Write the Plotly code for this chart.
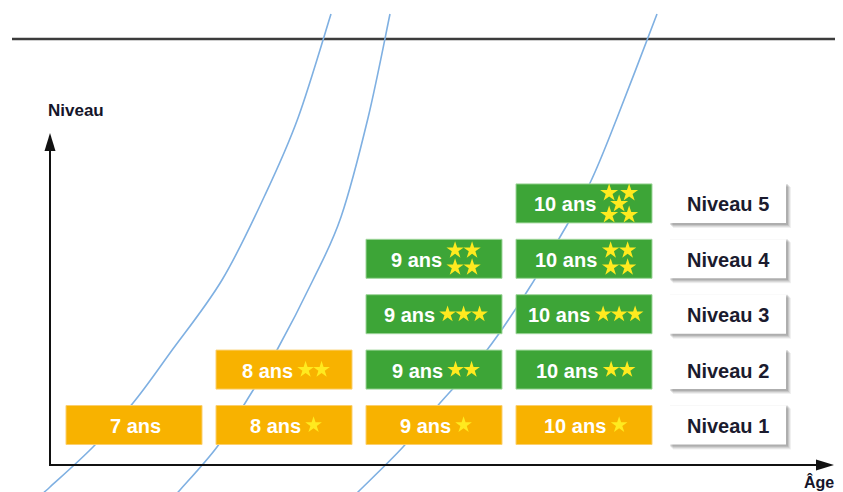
import plotly.graph_objects as go

# ---------------- data ----------------
ages = ["7 ans", "8 ans", "9 ans", "10 ans"]
level_names = ["Niveau 1", "Niveau 2", "Niveau 3", "Niveau 4", "Niveau 5"]
levels = [1, 2, 3, 4, 5]

cell_age = ["7 ans", "8 ans", "8 ans", "9 ans", "9 ans", "9 ans", "9 ans",
            "10 ans", "10 ans", "10 ans", "10 ans", "10 ans"]
cell_level = [1, 1, 2, 1, 2, 3, 4, 1, 2, 3, 4, 5]
cell_stars = [0, 1, 2, 1, 2, 3, 4, 1, 2, 3, 4, 5]
cell_kind = ["orange", "orange", "orange", "orange", "green", "green", "green",
             "orange", "green", "green", "green", "green"]

# decorative guide curves (page-pixel points)
curve_a = [(331, 14), (298, 118), (265, 195), (222, 280), (170, 353), (133, 403),
           (93, 447), (50, 487), (44, 492)]
curve_b = [(390, 14), (368, 118), (341, 217), (313, 280), (277, 350), (247, 400),
           (217, 447), (180, 490), (178, 492)]
curve_c = [(657, 14), (617, 118), (590, 183), (560, 237), (528, 290), (487, 350),
           (440, 403), (403, 447), (360, 490), (358, 492)]

# ---------------- styling / geometry ----------------
W, H = 843, 492
PAGE_OFF = 8                    # body margin of the html page
X0_PX, COL_PX = 134, 150.0      # page-pixel centre of first column, column pitch
Y0_PX, ROW_PX = 425, 55.4       # page-pixel centre of level 1, row pitch
FILL = {"orange": "#F8B200", "green": "#3DA537"}
EDGE = {"orange": "#FBCF6E", "green": "#9ED69A"}
STAR = "#FFEA1F"
FONT = "Liberation Sans, Arial, sans-serif"
TXT_SIZE = 20


def xd(px):
    return (px - X0_PX) / COL_PX


def yd(py):
    return 1 + (Y0_PX - py) / ROW_PX


def ddx(px):
    return px / COL_PX


def ddy(px):
    return px / ROW_PX


CW = {' ': .278, 'a': .556, 'n': .611, 's': .556}
for d in "0123456789":
    CW[d] = .556


def text_w(s):
    return sum(CW.get(c, .556) for c in s) * TXT_SIZE


STAR_BLOCK = {0: 0, 1: 13, 2: 29, 3: 45, 4: 31, 5: 34}
STAR_POS = {
    1: [(6.5, 0)],
    2: [(6.5, 0), (22.5, 0)],
    3: [(6.5, 0), (22.5, 0), (38.5, 0)],
    4: [(7, -8.5), (24, -8.5), (7, 8.5), (24, 8.5)],
    5: [(7, -10.5), (27, -10.5), (17, 0.5), (7, 11.5), (27, 11.5)],
}
STAR_SIZE = {1: 12.5, 2: 12.5, 3: 12.5, 4: 13, 5: 13.5}
GAP = 8
BOX_HW, BOX_HH = 68, 19.5
LABEL_COL = xd(728)
LABEL_HW = 58

fig = go.Figure()
shapes = []
annotations = []


def to_path(pts):
    P = [(xd(x), yd(y)) for x, y in pts]
    s = f"M {P[0][0]},{P[0][1]}"
    n = len(P)
    for i in range(n - 1):
        p0 = P[i - 1] if i > 0 else P[i]
        p1, p2 = P[i], P[i + 1]
        p3 = P[i + 2] if i + 2 < n else P[i + 1]
        c1 = (p1[0] + (p2[0] - p0[0]) / 6, p1[1] + (p2[1] - p0[1]) / 6)
        c2 = (p2[0] - (p3[0] - p1[0]) / 6, p2[1] - (p3[1] - p1[1]) / 6)
        s += f" C {c1[0]},{c1[1]} {c2[0]},{c2[1]} {p2[0]},{p2[1]}"
    return s


# top rule
shapes.append(dict(type="line", xref="x", yref="y", x0=xd(12), x1=xd(860), y0=yd(39), y1=yd(39),
                   line=dict(color="#3C3C3C", width=2.5), layer="below"))

# guide curves
for c in (curve_a, curve_b, curve_c):
    shapes.append(dict(type="path", xref="x", yref="y", path=to_path(c),
                       line=dict(color="#7FB0E2", width=1.6), layer="below"))

# axes with arrows
shapes.append(dict(type="line", xref="x", yref="y", x0=xd(50), x1=xd(50), y0=yd(466), y1=yd(148),
                   line=dict(color="#111111", width=2), layer="below"))
shapes.append(dict(type="path", xref="x", yref="y",
                   path=f"M {xd(50)},{yd(133)} L {xd(44.5)},{yd(151)} L {xd(55.5)},{yd(151)} Z",
                   fillcolor="#111111", line=dict(width=0), layer="below"))
shapes.append(dict(type="line", xref="x", yref="y", x0=xd(49), x1=xd(818), y0=yd(465), y1=yd(465),
                   line=dict(color="#111111", width=2), layer="below"))
shapes.append(dict(type="path", xref="x", yref="y",
                   path=f"M {xd(834)},{yd(465)} L {xd(816)},{yd(459.5)} L {xd(816)},{yd(470.5)} Z",
                   fillcolor="#111111", line=dict(width=0), layer="below"))

# cells
star_x, star_y, star_s = [], [], []
for age, lvl, ns, kind in zip(cell_age, cell_level, cell_stars, cell_kind):
    col = ages.index(age)
    shapes.append(dict(type="rect", xref="x", yref="y",
                       x0=col - ddx(BOX_HW), x1=col + ddx(BOX_HW),
                       y0=lvl - ddy(BOX_HH), y1=lvl + ddy(BOX_HH),
                       fillcolor=FILL[kind], line=dict(color=EDGE[kind], width=1), layer="below"))
    tw = text_w(age)
    total = tw + (GAP + STAR_BLOCK[ns] if ns else 0)
    left_px = -total / 2
    annotations.append(dict(x=col + ddx(left_px), y=lvl, xref="x", yref="y", text=age,
                            showarrow=False, xanchor="left", yanchor="middle", yshift=-1,
                            font=dict(family=FONT, size=TXT_SIZE, color="white", weight="bold")))
    if ns:
        sx0 = left_px + tw + GAP
        for ox, oy in STAR_POS[ns]:
            star_x.append(col + ddx(sx0 + ox))
            star_y.append(lvl - ddy(oy))
            star_s.append(STAR_SIZE[ns])

# level labels with soft shadow
for lvl, name in zip(levels, level_names):
    for k, op in ((4, 0.06), (3, 0.08), (2, 0.10), (1, 0.12)):
        shapes.append(dict(type="rect", xref="x", yref="y",
                           x0=LABEL_COL - ddx(LABEL_HW) + ddx(k - 1), x1=LABEL_COL + ddx(LABEL_HW) + ddx(k + 1),
                           y0=lvl - ddy(BOX_HH) - ddy(k + 1), y1=lvl + ddy(BOX_HH) - ddy(k - 1),
                           fillcolor="#000000", opacity=op, line=dict(width=0), layer="below"))
    shapes.append(dict(type="rect", xref="x", yref="y",
                       x0=LABEL_COL - ddx(LABEL_HW), x1=LABEL_COL + ddx(LABEL_HW),
                       y0=lvl - ddy(BOX_HH), y1=lvl + ddy(BOX_HH),
                       fillcolor="white", line=dict(width=0), layer="below"))
    annotations.append(dict(x=LABEL_COL, y=lvl, xref="x", yref="y", text=name, showarrow=False,
                            xanchor="center", yanchor="middle", yshift=-1,
                            font=dict(family=FONT, size=TXT_SIZE, color="#1B1B2E", weight="bold")))

fig.add_trace(go.Scatter(x=star_x, y=star_y, mode="markers", hoverinfo="skip", showlegend=False,
                         marker=dict(symbol="star", size=star_s, color=STAR, opacity=1,
                                     line=dict(width=0))))

# axis titles
annotations.append(dict(x=xd(46), y=yd(110), xref="x", yref="y", text="Niveau", showarrow=False,
                        xanchor="left", yanchor="middle",
                        font=dict(family=FONT, size=17, color="#15152A", weight="bold")))
annotations.append(dict(x=xd(802), y=yd(482), xref="x", yref="y", text="Âge", showarrow=False,
                        xanchor="left", yanchor="middle",
                        font=dict(family=FONT, size=16, color="#15152A", weight="bold")))

# the figure is shown with an 8px page margin: map page pixels PAGE_OFF..W+PAGE_OFF
fig.update_layout(
    width=W, height=H, margin=dict(l=0, r=0, t=0, b=0),
    paper_bgcolor="white", plot_bgcolor="white",
    xaxis=dict(range=[xd(PAGE_OFF), xd(W + PAGE_OFF)], visible=False, fixedrange=True),
    yaxis=dict(range=[yd(H + PAGE_OFF), yd(PAGE_OFF)], visible=False, fixedrange=True),
    shapes=shapes, annotations=annotations, showlegend=False,
)

fig.write_html("out.html")
